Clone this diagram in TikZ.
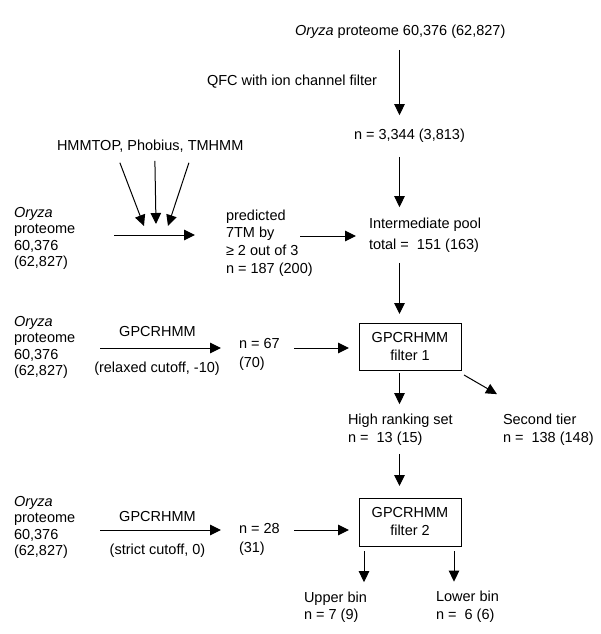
\documentclass[tikz,border=0pt]{standalone}
\usepackage{fontspec}
\setmainfont{Liberation Sans}
\usetikzlibrary{arrows.meta,calc}
\begin{document}
\begin{tikzpicture}[x=1pt,y=-1pt,
  every node/.style={inner sep=0pt, outer sep=0pt, font=\fontsize{14.5}{17}\selectfont},
  txt/.style={anchor=west, align=left},
  fbox/.style={draw, line width=0.9pt, minimum width=102pt, minimum height=47pt, align=center, font=\fontsize{14.5}{18}\selectfont},
  arr/.style={line width=1pt, -{Triangle[length=11pt,width=10.5pt]}}]
\fill[white] (0,0) rectangle (600,634);
\useasboundingbox (0,0) rectangle (600,634);

% text nodes
\node[txt] (top) at (295,32) {\textit{Oryza} proteome 60,376 (62,827)};
\node[txt] (qfc) at (207,81.3) {QFC with ion channel filter};
\node[txt] (n3344) at (354,135.5) {n = 3,344 (3,813)};
\node[txt] (hmm) at (57,146) {HMMTOP, Phobius, TMHMM};
\node[txt, font=\fontsize{14.5}{16.5}\selectfont] (orz2) at (14,238.2) {\textit{Oryza}\\proteome\\60,376\\(62,827)};
\node[txt, font=\fontsize{14.5}{17.7}\selectfont] (pred) at (226,243) {predicted\\7TM by\\≥ 2 out of 3\\n = 187 (200)};
\node[txt, font=\fontsize{14.5}{21}\selectfont] (pool) at (369,234.9) {Intermediate pool\\total =\ \ 151 (163)};
\node[fbox] (f1) at (410,346.5) {GPCRHMM\\filter 1};
\node[txt, font=\fontsize{14.5}{16.5}\selectfont] (orz3) at (14,347.2) {\textit{Oryza}\\proteome\\60,376\\(62,827)};
\node (g1) at (157.5,332) {GPCRHMM};
\node (relax) at (157,368.5) {(relaxed cutoff, -10)};
\node[txt, font=\fontsize{14.5}{19}\selectfont] (n67) at (239,354) {n = 67\\(70)};
\node[txt, font=\fontsize{14.5}{18}\selectfont] (hrs) at (348,429.5) {High ranking set\\n =\ \ 13 (15)};
\node[txt, font=\fontsize{14.5}{18}\selectfont] (sec) at (503,429.5) {Second tier\\n =\ \ 138 (148)};
\node[fbox, minimum height=48pt] (f2) at (410,522) {GPCRHMM\\filter 2};
\node[txt, font=\fontsize{14.5}{16.5}\selectfont] (orz4) at (14,527.2) {\textit{Oryza}\\proteome\\60,376\\(62,827)};
\node (g2) at (157.5,517) {GPCRHMM};
\node (strict) at (157.5,550.5) {(strict cutoff, 0)};
\node[txt, font=\fontsize{14.5}{19}\selectfont] (n28) at (239,539) {n = 28\\(31)};
\node[txt, font=\fontsize{14.5}{17}\selectfont] (up) at (304,607) {Upper bin\\n = 7 (9)};
\node[txt, font=\fontsize{14.5}{18}\selectfont] (low) at (436,607) {Lower bin\\n =\ \ 6 (6)};

% helper coordinates
\coordinate (colA) at (399.5,0);
\coordinate (colU) at (364,0);
\coordinate (colL) at (454,0);
\coordinate (rowB) at (0,235);
\coordinate (rowC) at (0,236);
\coordinate (rowD) at (0,348);
\coordinate (rowE) at (0,530);
\coordinate (t1) at (144,226);
\coordinate (t2) at (156,224);
\coordinate (t3) at (168,226);

% main column
\draw[arr, shorten <=11pt, shorten >=13.6pt] (top.south -| colA) -- (n3344.north -| colA);
\draw[arr, shorten <=14.6pt, shorten >=10.5pt] (n3344.south -| colA) -- (pool.north -| colA);
\draw[arr, shorten <=10.7pt, shorten >=9pt] (pool.south -| colA) -- (f1.north -| colA);
\draw[arr, shorten <=3pt, shorten >=9.6pt] (f1.south -| colA) -- (hrs.north -| colA);
\draw[arr, shorten <=8.7pt, shorten >=12pt] (hrs.south -| colA) -- (f2.north -| colA);
\draw[arr] ($(f1.south east)+(3,5)$) -- ($(sec.north west)+(-6,-19.6)$);
\draw[arr, shorten <=5pt, shorten >=9.6pt] (f2.south -| colU) -- (up.north -| colU);
\draw[arr, shorten <=5pt, shorten >=9.6pt] (f2.south -| colL) -- (low.north -| colL);

% horizontal arrows
\draw[arr, shorten <=38.8pt, shorten >=31pt] (orz2.east |- rowB) -- (pred.west |- rowB);
\draw[arr, shorten <=74pt, shorten >=13pt] (pred.west |- rowC) -- (pool.west |- rowC);
\draw[arr, shorten <=24.8pt, shorten >=18pt] (orz3.east |- rowD) -- (n67.west |- rowD);
\draw[arr, shorten <=14.3pt, shorten >=10pt] (n67.east |- rowD) -- (f1.west |- rowD);
\draw[arr, shorten <=24.8pt, shorten >=18pt] (orz4.east |- rowE) -- (n28.west |- rowE);
\draw[arr, shorten <=14.3pt, shorten >=10pt] (n28.east |- rowE) -- (f2.west |- rowE);

% three predictor arrows
\draw[arr] ($(hmm.south)+(-30.3,10.6)$) -- (t1);
\draw[arr] ($(hmm.south)+(4.7,8.6)$) -- (t2);
\draw[arr] ($(hmm.south)+(38.7,10.6)$) -- (t3);
\end{tikzpicture}
\end{document}
